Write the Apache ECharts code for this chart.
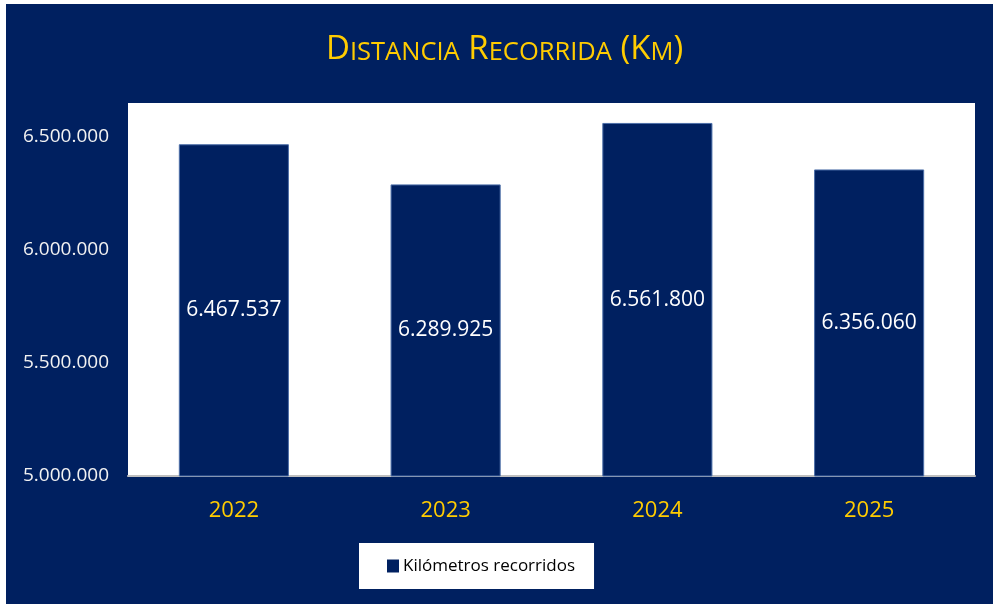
<!DOCTYPE html>
<html><head><meta charset="utf-8">
<script src="https://cdn.jsdelivr.net/npm/echarts@6/dist/echarts.min.js"></script>
<style>html,body{margin:0;padding:0;background:#fff;}#c{position:absolute;left:6px;top:4px;width:987px;height:600px;}</style>
</head><body><div id="c"></div>
<script>
const titleText = 'Distancia Recorrida (Km)';
const categories = ['2022', '2023', '2024', '2025'];
const seriesName = 'Kilómetros recorridos';
const values = [6467537, 6289925, 6561800, 6356060];
const yMin = 5000000;
const yMax = 6650000;
const yStep = 500000;

const FONT = '"Open Sans", "Noto Sans", sans-serif';
function fmt(v) { return String(v).replace(/\B(?=(\d{3})+(?!\d))/g, '.'); }
// render title in small caps (like CSS font-variant: small-caps)
function smallCaps(t) {
  let out = '', cur = null, buf = '';
  for (const ch of t) {
    const cls = (ch !== ch.toUpperCase()) ? 's' : 'b';
    if (cls !== cur && buf) { out += '{' + cur + '|' + buf + '}'; buf = ''; }
    cur = cls; buf += ch.toUpperCase();
  }
  if (buf) out += '{' + cur + '|' + buf + '}';
  return out;
}

const chart = echarts.init(document.getElementById('c'));
chart.setOption({
  backgroundColor: '#002060',
  animation: false,
  title: {
    text: smallCaps(titleText),
    left: 315, top: 19,
    textStyle: {
      fontWeight: 'normal',
      rich: {
        b: { fontFamily: FONT, fontSize: 33, fontWeight: 'normal', color: '#FFCC00', verticalAlign: 'bottom', lineHeight: 38 },
        s: { fontFamily: FONT, fontSize: 25.5, fontWeight: 'normal', color: '#FFCC00', verticalAlign: 'bottom', lineHeight: 38 }
      }
    }
  },
  grid: { left: 122, right: 18, top: 99, bottom: 128, show: true, backgroundColor: '#ffffff', borderWidth: 0 },
  legend: {
    data: [seriesName],
    left: 353, top: 539,
    backgroundColor: '#ffffff',
    padding: [13, 19, 13, 28],
    icon: 'rect', itemWidth: 12, itemHeight: 13, itemGap: 10,
    itemStyle: { borderWidth: 0 },
    textStyle: { color: '#000000', fontFamily: FONT, fontSize: 17, lineHeight: 20, padding: [0, 0, 0, -1] }
  },
  xAxis: {
    type: 'category', data: categories,
    axisTick: { show: false },
    axisLine: { lineStyle: { color: '#bfbfbf', width: 2 } },
    axisLabel: { color: '#FFCC00', fontFamily: FONT, fontSize: 22, margin: 24 }
  },
  yAxis: {
    type: 'value', min: yMin, max: yMax, interval: yStep,
    splitLine: { show: false },
    axisLine: { show: false }, axisTick: { show: false },
    axisLabel: {
      color: '#f2f2f2', fontFamily: FONT, fontSize: 19, margin: 19,
      formatter: v => (v % yStep === 0 ? fmt(v) : '')
    }
  },
  series: [{
    name: seriesName, type: 'bar', data: values, barWidth: '52%',
    itemStyle: { color: '#002060', borderColor: '#4d6fa8', borderWidth: 1 },
    label: { show: true, position: 'inside', color: '#ffffff', fontFamily: FONT, fontSize: 21, formatter: p => fmt(p.value) }
  }]
});
</script></body></html>
